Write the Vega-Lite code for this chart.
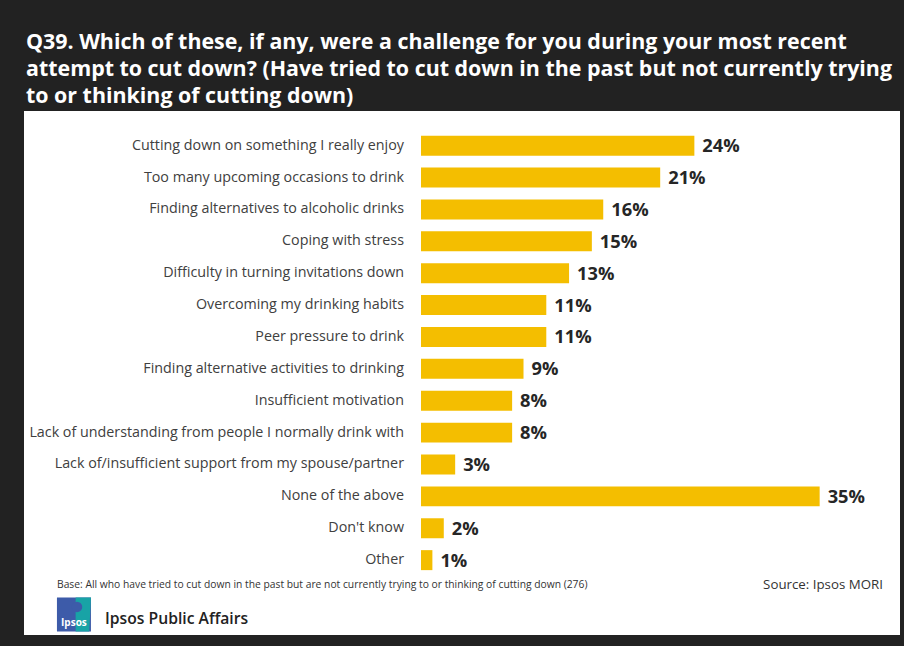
{
  "$schema": "https://vega.github.io/schema/vega-lite/v6.json",
  "width": 876,
  "height": 524,
  "autosize": {"type": "none"},
  "padding": {"left": 24, "top": 111, "right": 4, "bottom": 11},
  "background": "#222222",
  "config": {
    "view": {"fill": "#ffffff", "stroke": null},
    "font": "Open Sans"
  },
  "title": {
    "text": [
      "Q39.  Which of these, if any, were a challenge for you during your most recent",
      "attempt to cut down? (Have tried to cut down in the past but not currently trying",
      "to or thinking of cutting down)"
    ],
    "anchor": "start",
    "frame": "group",
    "orient": "top",
    "baseline": "bottom",
    "color": "#ffffff",
    "font": "Open Sans",
    "fontSize": 21.4,
    "fontWeight": "bold",
    "lineHeight": 26.8,
    "offset": 4,
    "dx": 2,
    "dy": 21
  },
  "data": {
    "values": [
      {"category": "Cutting down on something I really enjoy", "value": 0.24},
      {"category": "Too many upcoming occasions to drink", "value": 0.21},
      {"category": "Finding alternatives to alcoholic drinks", "value": 0.16},
      {"category": "Coping with stress", "value": 0.15},
      {"category": "Difficulty in turning invitations down", "value": 0.13},
      {"category": "Overcoming my drinking habits", "value": 0.11},
      {"category": "Peer pressure to drink", "value": 0.11},
      {"category": "Finding alternative activities to drinking", "value": 0.09},
      {"category": "Insufficient motivation", "value": 0.08},
      {"category": "Lack of understanding from people I normally drink with", "value": 0.08},
      {"category": "Lack of/insufficient support from my spouse/partner", "value": 0.03},
      {"category": "None of the above", "value": 0.35},
      {"category": "Don't know", "value": 0.02},
      {"category": "Other", "value": 0.01}
    ]
  },
  "layer": [
    {
      "mark": {"type": "bar", "color": "#F4BE00"},
      "encoding": {
        "y": {
          "field": "category",
          "type": "nominal",
          "sort": null,
          "axis": null,
          "scale": {
            "domain": [
              "Cutting down on something I really enjoy",
              "Too many upcoming occasions to drink",
              "Finding alternatives to alcoholic drinks",
              "Coping with stress",
              "Difficulty in turning invitations down",
              "Overcoming my drinking habits",
              "Peer pressure to drink",
              "Finding alternative activities to drinking",
              "Insufficient motivation",
              "Lack of understanding from people I normally drink with",
              "Lack of/insufficient support from my spouse/partner",
              "None of the above",
              "Don't know",
              "Other",
              "footnote",
              "brand"
            ],
            "paddingInner": 0.373,
            "paddingOuter": 0.405,
            "align": 0.957
          }
        },
        "x": {
          "field": "value",
          "type": "quantitative",
          "axis": null,
          "scale": {"domain": [-0.34855, 0.42054], "nice": false, "zero": false}
        }
      }
    },
    {
      "mark": {"type": "text", "align": "right", "baseline": "middle", "dx": -17, "font": "Open Sans", "fontSize": 14.3, "color": "#404040"},
      "encoding": {
        "y": {"field": "category", "type": "nominal", "sort": null},
        "x": {"datum": 0, "type": "quantitative"},
        "text": {"field": "category"}
      }
    },
    {
      "mark": {"type": "text", "align": "left", "baseline": "middle", "dx": 8, "dy": 1.5, "font": "Open Sans", "fontSize": 18.3, "fontWeight": "bold", "color": "#262626"},
      "encoding": {
        "y": {"field": "category", "type": "nominal", "sort": null},
        "x": {"field": "value", "type": "quantitative"},
        "text": {"field": "value", "format": ".0%"}
      }
    },
    {
      "data": {"values": [{"t": "Base:  All who have tried to cut down in the past but are not currently trying to or thinking of cutting down (276)"}]},
      "mark": {"type": "text", "align": "left", "baseline": "middle", "dy": -7, "font": "Open Sans", "fontSize": 10.3, "color": "#333333"},
      "encoding": {
        "y": {"datum": "footnote", "type": "nominal"},
        "x": {"datum": -0.3196, "type": "quantitative"},
        "text": {"field": "t"}
      }
    },
    {
      "data": {"values": [{"t": "Source: Ipsos MORI"}]},
      "mark": {"type": "text", "align": "right", "baseline": "middle", "dy": -7, "font": "Open Sans", "fontSize": 13.3, "color": "#333333"},
      "encoding": {
        "y": {"datum": "footnote", "type": "nominal"},
        "x": {"datum": 0.4056, "type": "quantitative"},
        "text": {"field": "t"}
      }
    },
    {
      "data": {"values": [{"t": "Ipsos Public Affairs"}]},
      "mark": {"type": "text", "align": "left", "baseline": "middle", "dy": -5, "font": "Open Sans", "fontSize": 15.7, "fontWeight": 600, "color": "#222222"},
      "encoding": {
        "y": {"datum": "brand", "type": "nominal"},
        "x": {"datum": -0.2774, "type": "quantitative"},
        "text": {"field": "t"}
      }
    },
    {
      "data": {"values": [{"t": "logo"}]},
      "mark": {"type": "point", "shape": "square", "filled": true, "size": 1156, "color": "#3D5BA9", "opacity": 1, "yOffset": -9.4},
      "encoding": {
        "y": {"datum": "brand", "type": "nominal"},
        "x": {"datum": -0.3047, "type": "quantitative"}
      }
    },
    {
      "data": {"values": [{"t": "logo"}]},
      "mark": {"type": "point", "shape": "M0.1,-1L1,-1L0.9,1L0.1,1Z", "filled": true, "size": 1156, "color": "#18A3A6", "opacity": 1, "yOffset": -9.4},
      "encoding": {
        "y": {"datum": "brand", "type": "nominal"},
        "x": {"datum": -0.3047, "type": "quantitative"}
      }
    },
    {
      "data": {"values": [{"t": "logo"}]},
      "mark": {"type": "point", "shape": "circle", "filled": true, "size": 110, "color": "#3D5BA9", "opacity": 1, "yOffset": -17},
      "encoding": {
        "y": {"datum": "brand", "type": "nominal"},
        "x": {"datum": -0.3020, "type": "quantitative"}
      }
    },
    {
      "data": {"values": [{"t": "Ipsos"}]},
      "mark": {"type": "text", "align": "center", "baseline": "middle", "dy": -1, "font": "Open Sans", "fontSize": 10, "fontWeight": "bold", "color": "#ffffff"},
      "encoding": {
        "y": {"datum": "brand", "type": "nominal"},
        "x": {"datum": -0.3047, "type": "quantitative"},
        "text": {"field": "t"}
      }
    }
  ]
}
